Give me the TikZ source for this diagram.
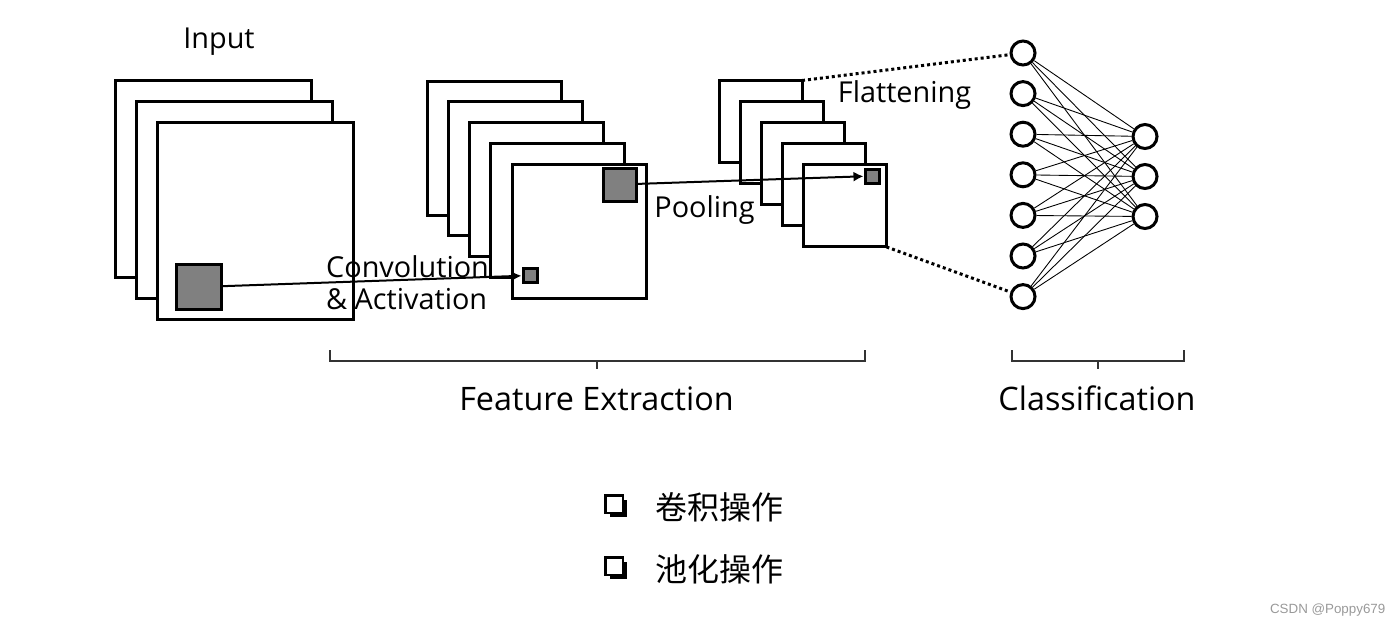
\documentclass[tikz,border=0pt]{standalone}
\usepackage{fontspec}
\setmainfont{Open Sans}
\newfontfamily\cjk{Noto Sans CJK SC}
\newfontfamily\wmfont{Liberation Sans}
\usetikzlibrary{arrows.meta,shadows}

\tikzset{
  fmap/.style={draw, fill=white, line width=0.3mm, inner sep=0, outer sep=0, anchor=north west},
  patch/.style={draw, fill=black!50, line width=0.3mm, inner sep=0, minimum size=#1},
  neuron/.style={draw, circle, line width=0.3mm, minimum size=2.4mm, inner sep=0},
  link/.style={line width=0.25pt},
  flow/.style={line width=0.2mm, -{Latex[length=1mm,width=1mm]}},
  flat/.style={line width=0.3mm, dash pattern=on 0.3mm off 0.3mm},
  lbl/.style={font=\fontsize{8.2}{9.1}\selectfont, inner sep=0},
  title/.style={font=\fontsize{9.2}{11}\selectfont, inner sep=0},
  bracket/.style={line width=0.13mm, black!80},
  chk/.style={draw, fill=white, line width=0.25mm, minimum size=1.75mm, inner sep=0,
    drop shadow={shadow xshift=0.45mm, shadow yshift=-0.45mm, opacity=1, fill=black}},
}

\begin{document}
\begin{tikzpicture}[x=0.1mm, y=-0.1mm]
  \useasboundingbox (0,0) rectangle (1400,628);

  % input image and feature maps
  \foreach \i in {0,1,2}
    \node[fmap, minimum width=19.6mm, minimum height=19.7mm] (img\i) at (115.5+21*\i, 80.5+21*\i) {};
  \foreach \i in {0,...,4}
    \node[fmap, minimum width=13.4mm, minimum height=13.4mm] (conv\i) at (427+21.25*\i, 81+20.75*\i) {};
  \foreach \i in {0,...,4}
    \node[fmap, minimum width=8.25mm, minimum height=8.2mm] (pool\i) at (719.5+21.1*\i, 80.5+21.1*\i) {};

  \node[patch=4.5mm] (kernel) at (198.5,287) {};
  \node[patch=1.4mm] (convpix) at (530,275.5) {};
  \node[patch=3.3mm] (window) at (619.5,184.5) {};
  \node[patch=1.4mm] (poolpix) at (872,176) {};

  \draw[flow] (kernel) -- (convpix);
  \draw[flow] (window) -- (poolpix);

  % fully connected part
  \foreach \i in {1,...,7}
    \node[neuron] (h\i) at (1023, 53+40.6*\i-40.6) {};
  \foreach \j in {1,2,3}
    \node[neuron] (o\j) at (1145, 136.5+40*\j-40) {};
  \foreach \i in {1,...,7}
    \foreach \j in {1,2,3}
      \draw[link] (h\i) -- (o\j);

  \draw[flat] (pool0.north east) -- (h1);
  \draw[flat] (pool4.south east) -- (h7);

  \node[lbl, anchor=base] (input) at (219,48) {Input};
  \node[lbl, anchor=base west, align=left] (convlbl) at (325.5,309) {Convolution\\\& Activation};
  \node[lbl, anchor=base] (poollbl) at (704.5,217) {Pooling};
  \node[lbl, anchor=base] (flatlbl) at (904.5,102.5) {Flattening};

  \draw[bracket] (330,350) -- (330,361) -- (865,361) -- (865,350) (597,361) -- (597,369);
  \draw[bracket] (1012,350) -- (1012,361) -- (1184,361) -- (1184,350) (1098,361) -- (1098,369);
  \node[title, anchor=base] (fe) at (596.5,410) {Feature Extraction};
  \node[title, anchor=base] (cls) at (1097,410) {Classification};

  \node[chk] (b1) at (614,504) {};
  \node[chk] (b2) at (614,566) {};
  \node[font={\cjk\fontsize{9.1}{11}\selectfont}, inner sep=0, anchor=west] (op1) at (655,507) {卷积操作};
  \node[font={\cjk\fontsize{9.1}{11}\selectfont}, inner sep=0, anchor=west] (op2) at (655,569) {池化操作};

  \node[font={\wmfont\fontsize{3.8}{4}\selectfont}, text=black!40, inner sep=0, anchor=east] (wm) at (1386,610) {CSDN @Poppy679};
\end{tikzpicture}
\end{document}
